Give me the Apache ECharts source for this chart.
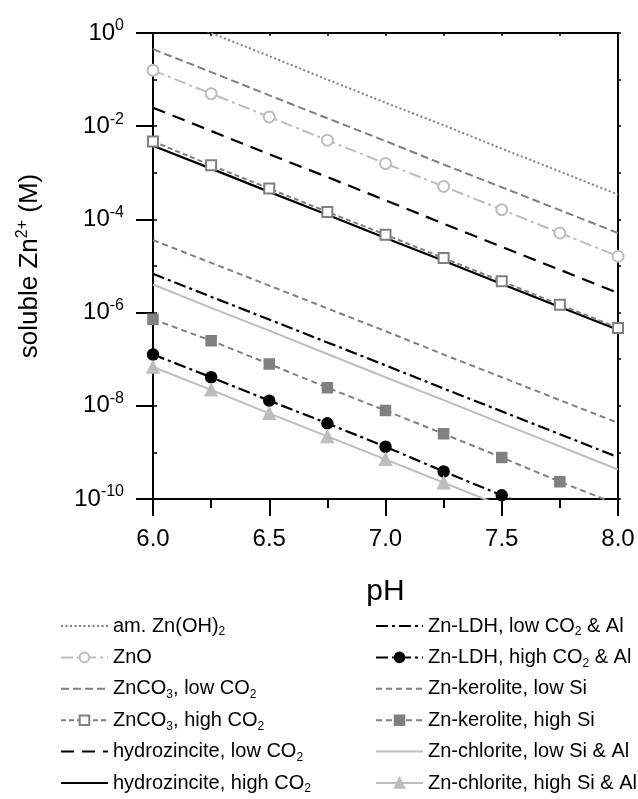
<!DOCTYPE html>
<html>
<head>
<meta charset="utf-8">
<script src="https://cdn.jsdelivr.net/npm/echarts@6/dist/echarts.min.js"></script>
<style>
html,body{margin:0;padding:0;background:#fff;}
#chart{width:638px;height:799px;}
</style>
</head>
<body>
<div id="chart"></div>
<script>
// ---- data ----
const pH = [6.0, 6.25, 6.5, 6.75, 7.0, 7.25, 7.5, 7.75, 8.0];

const amZnOH2      = [3.2, 1.0, 0.32, 0.10, 0.032, 0.0105, 0.0033, 0.00107, 0.00034];
const ZnO          = [0.158, 0.050, 0.0158, 0.0050, 0.00158, 5.1e-4, 1.62e-4, 5.1e-5, 1.62e-5];
const ZnCO3Low     = [0.45, 0.145, 0.046, 0.0148, 0.0048, 1.51e-3, 4.9e-4, 1.58e-4, 5.1e-5];
const ZnCO3High    = [4.7e-3, 1.45e-3, 4.6e-4, 1.45e-4, 4.7e-5, 1.48e-5, 4.7e-6, 1.48e-6, 4.7e-7];
const hydroLow     = [2.5e-2, 7.9e-3, 2.5e-3, 8.1e-4, 2.57e-4, 8.1e-5, 2.57e-5, 8.3e-6, 2.63e-6];
const hydroHigh    = [3.8e-3, 1.23e-3, 3.9e-4, 1.26e-4, 4.0e-5, 1.29e-5, 4.1e-6, 1.32e-6, 4.3e-7];
const LDHLow       = [6.8e-6, 2.19e-6, 7.1e-7, 2.29e-7, 7.4e-8, 2.34e-8, 7.6e-9, 2.45e-9, 7.9e-10];
const LDHHigh      = [1.26e-7, 4.1e-8, 1.29e-8, 4.2e-9, 1.32e-9, 3.9e-10, 1.2e-10, 3.8e-11, 1.2e-11];
const keroLow      = [3.6e-5, 1.17e-5, 3.8e-6, 1.23e-6, 4.0e-7, 1.26e-7, 4.1e-8, 1.32e-8, 4.3e-9];
const keroHigh     = [7.2e-7, 2.5e-7, 7.9e-8, 2.45e-8, 7.9e-9, 2.5e-9, 7.8e-10, 2.34e-10, 7.6e-11];
const chlorLow     = [4.0e-6, 1.26e-6, 4.1e-7, 1.29e-7, 4.1e-8, 1.32e-8, 4.2e-9, 1.35e-9, 4.3e-10];
const chlorHigh    = [6.8e-8, 2.2e-8, 6.9e-9, 2.2e-9, 7.1e-10, 2.24e-10, 7.1e-11, 2.2e-11, 7.1e-12];

const seriesNames = [
  'am. Zn(OH)2', 'ZnO', 'ZnCO3, low CO2', 'ZnCO3, high CO2', 'hydrozincite, low CO2', 'hydrozincite, high CO2',
  'Zn-LDH, low CO2 & Al', 'Zn-LDH, high CO2 & Al', 'Zn-kerolite, low Si', 'Zn-kerolite, high Si', 'Zn-chlorite, low Si & Al', 'Zn-chlorite, high Si & Al'
];
const legendLabels = [
  'am. Zn(OH){sub|2}', 'ZnO', 'ZnCO{sub|3}, low CO{sub|2}', 'ZnCO{sub|3}, high CO{sub|2}', 'hydrozincite, low CO{sub|2}', 'hydrozincite, high CO{sub|2}',
  'Zn-LDH, low CO{sub|2} & Al', 'Zn-LDH, high CO{sub|2} & Al', 'Zn-kerolite, low Si', 'Zn-kerolite, high Si', 'Zn-chlorite, low Si & Al', 'Zn-chlorite, high Si & Al'
];
const xTickLabels = ['6.0', '6.5', '7.0', '7.5', '8.0'];
const yTickExponents = ['-10', '-8', '-6', '-4', '-2', '0'];
const xTitle = 'pH';
const yTitle = 'soluble Zn{sup|2+} (M)';

// ---- chart ----
const FONT = 'Liberation Sans, Arial, sans-serif';
const DARK = '#808080';
const LIGHT = '#bdbdbd';
const NOFILL = 'rgba(0,0,0,0)';

function pairs(vals) { return pH.map((x, i) => [x, vals[i]]); }

function mk(name, vals, color, type, width, symbol, symColor, symSize, z) {
  const sc = symbol ? (symColor || color) : NOFILL;
  return {
    name: name, type: 'line', data: pairs(vals), xAxisIndex: 0, yAxisIndex: 0,
    symbol: symbol || 'none', symbolSize: symSize || 10, showSymbol: !!symbol,
    lineStyle: { color: color, width: width, type: type },
    itemStyle: { color: sc, borderColor: sc, borderWidth: 1.5 },
    clip: true, z: z || 2, silent: true
  };
}

const series = [
  mk(seriesNames[0], amZnOH2, DARK, [2, 2.5], 2),
  mk(seriesNames[1], ZnO, LIGHT, [12, 4, 3, 4], 2, 'emptyCircle', LIGHT, 11, 3),
  mk(seriesNames[2], ZnCO3Low, DARK, [8, 4], 2),
  mk(seriesNames[3], ZnCO3High, DARK, [5, 3], 2, 'emptyRect', DARK, 10, 3),
  mk(seriesNames[4], hydroLow, '#000', [13, 8], 2.2),
  mk(seriesNames[5], hydroHigh, '#000', 'solid', 2.2),
  mk(seriesNames[6], LDHLow, '#000', [12, 4, 3, 4], 2.2),
  mk(seriesNames[7], LDHHigh, '#000', [12, 4, 3, 4], 2.2, 'circle', '#000', 11, 3),
  mk(seriesNames[8], keroLow, DARK, [6, 4], 2),
  mk(seriesNames[9], keroHigh, DARK, [6, 4], 2, 'rect', DARK, 10, 3),
  mk(seriesNames[10], chlorLow, LIGHT, 'solid', 2),
  mk(seriesNames[11], chlorHigh, LIGHT, 'solid', 2, 'triangle', LIGHT, 12, 3)
];

function legendCfg(names, left) {
  return {
    orient: 'vertical', left: left, top: 614, padding: 0, itemGap: 7.4, itemWidth: 47, itemHeight: 12,
    selectedMode: false, data: names,
    formatter: function (n) { return legendLabels[seriesNames.indexOf(n)]; },
    textStyle: {
      fontFamily: FONT, fontSize: 20, color: '#000', lineHeight: 24,
      rich: { sub: { fontFamily: FONT, fontSize: 12, lineHeight: 12, verticalAlign: 'bottom', color: '#000' } }
    }
  };
}

const axisLineStyle = { color: '#000', width: 2 };

const option = {
  animation: false,
  backgroundColor: '#fff',
  grid: { left: 153, right: 20, top: 33, bottom: 300, containLabel: false, outerBoundsMode: 'none' },
  legend: [legendCfg(seriesNames.slice(0, 6), 60), legendCfg(seriesNames.slice(6), 375)],
  xAxis: [
    {
      type: 'value', position: 'bottom', min: 6, max: 8, interval: 0.5,
      axisLine: { show: true, onZero: false, lineStyle: axisLineStyle },
      axisTick: { show: true, inside: false, length: 17, lineStyle: { color: '#000', width: 2 } },
      axisLabel: { margin: 28, fontFamily: FONT, fontSize: 24, color: '#000',
        formatter: function (v, i) { return xTickLabels[i]; } },
      splitLine: { show: false },
      name: xTitle, nameLocation: 'middle', nameGap: 78,
      nameTextStyle: { fontFamily: FONT, fontSize: 30, color: '#000', lineHeight: 30 }
    },
    {
      type: 'value', position: 'bottom', min: 6, max: 8, interval: 0.25,
      axisLine: { show: false, onZero: false },
      axisTick: { show: true, inside: false, length: 9, lineStyle: { color: '#000', width: 2 } },
      axisLabel: { show: false }, splitLine: { show: false }
    },
    {
      type: 'value', position: 'top', min: 6, max: 8, interval: 0.25,
      axisLine: { show: true, onZero: false, lineStyle: axisLineStyle },
      axisTick: { show: true, inside: true, length: 3, lineStyle: { color: '#000', width: 1.5 } },
      axisLabel: { show: false }, splitLine: { show: false }
    }
  ],
  yAxis: [
    {
      type: 'log', logBase: 10, position: 'left', min: 1e-10, max: 1, interval: 2,
      axisLine: { show: true, onZero: false, lineStyle: axisLineStyle },
      axisTick: { show: true, inside: false, length: 17, lineStyle: { color: '#000', width: 2 } },
      axisLabel: {
        margin: 29, fontFamily: FONT, fontSize: 24, color: '#000', lineHeight: 30,
        formatter: function (v, i) { return '{b|10}{s|' + yTickExponents[i] + '}'; },
        rich: {
          b: { fontFamily: FONT, fontSize: 24, lineHeight: 30, color: '#000' },
          s: { fontFamily: FONT, fontSize: 16, lineHeight: 16, verticalAlign: 'top', color: '#000' }
        }
      },
      splitLine: { show: false },
      name: yTitle, nameLocation: 'middle', nameGap: 108, nameRotate: 90,
      nameTextStyle: {
        fontFamily: FONT, fontSize: 26, color: '#000', lineHeight: 30,
        rich: { sup: { fontFamily: FONT, fontSize: 16, lineHeight: 16, verticalAlign: 'top', color: '#000' } }
      }
    },
    {
      type: 'log', logBase: 10, position: 'left', min: 1e-10, max: 1, interval: 1,
      axisLine: { show: false, onZero: false },
      axisTick: { show: true, inside: true, length: 4, lineStyle: { color: '#000', width: 1.5 } },
      axisLabel: { show: false }, splitLine: { show: false }
    },
    {
      type: 'log', logBase: 10, position: 'right', min: 1e-10, max: 1, interval: 1,
      axisLine: { show: true, onZero: false, lineStyle: axisLineStyle },
      axisTick: { show: true, inside: false, length: 3, lineStyle: { color: '#000', width: 1.5 } },
      axisLabel: { show: false }, splitLine: { show: false }
    }
  ],
  series: series
};

const chart = echarts.init(document.getElementById('chart'), null, { renderer: 'canvas' });
chart.setOption(option);
</script>
</body>
</html>
